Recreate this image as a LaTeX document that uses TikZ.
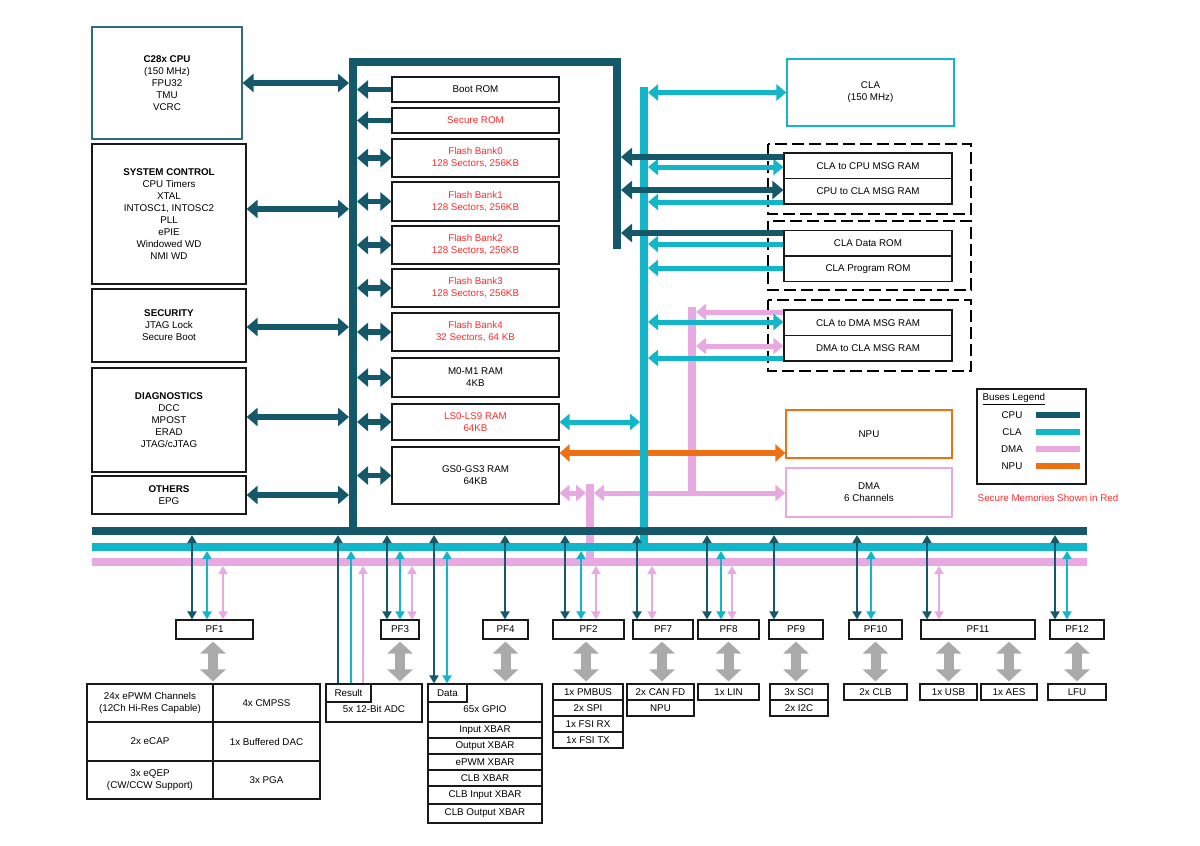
\documentclass[tikz,border=0pt]{standalone}
\usepackage{fontspec}
\setmainfont{Liberation Sans}
\usetikzlibrary{arrows.meta, calc}
\definecolor{cpubus}{HTML}{15586A}
\definecolor{clabus}{HTML}{12B6C8}
\definecolor{dmabus}{HTML}{E8A9E2}
\definecolor{npubus}{HTML}{EE7012}
\definecolor{secred}{HTML}{FF2B2B}
\definecolor{pfgray}{HTML}{AAAAAA}
\definecolor{cpuframe}{HTML}{2E6E7C}
\tikzset{
  block/.style={
    draw=black!90,
    line width=1.2pt,
    fill=white,
    inner sep=0pt,
    align=center
  },
  mem box/.style={
    block,
    minimum width=167pt
  },
  msg box/.style={
    block,
    minimum width=168pt,
    minimum height=25.5pt
  },
  pf box/.style={
    block,
    minimum height=19pt
  },
  sub box/.style={
    block,
    minimum height=16pt
  },
  secure/.style={text=secred},
  group frame/.style={
    draw=black,
    line width=1.3pt,
    dash pattern=on 12pt off 5pt
  },
  cpu bus/.style={draw=cpubus, line width=8pt},
  cla bus/.style={draw=clabus, line width=8pt},
  dma bus/.style={draw=dmabus, line width=8pt},
  cpu link/.style={
    draw=cpubus,
    line width=5.5pt,
    >={Triangle[length=11pt,width=18pt]}
  },
  cla link/.style={
    draw=clabus,
    line width=5pt,
    >={Triangle[length=10pt,width=16pt]}
  },
  dma link/.style={
    draw=dmabus,
    line width=5pt,
    >={Triangle[length=10pt,width=16pt]}
  },
  npu link/.style={
    draw=npubus,
    line width=5.5pt,
    >={Triangle[length=10pt,width=17pt]}
  },
  cpu wire/.style={
    draw=cpubus,
    line width=1.8pt,
    >={Triangle[length=8pt,width=9pt]}
  },
  cla wire/.style={cpu wire, draw=clabus},
  dma wire/.style={cpu wire, draw=dmabus},
  pf link/.style={
    draw=pfgray,
    line width=10pt,
    shorten <=2pt,
    shorten >=2pt,
    >={Triangle[length=12pt,width=25pt]}
  }
}

\begin{document}
\begin{tikzpicture}[x=1pt, y=-1pt, font=\fontsize{9.8}{12}\selectfont]
  \useasboundingbox (0,0) rectangle (1200,846);

  % left blocks
  \node[block, draw=cpuframe, minimum width=150pt, minimum height=112pt] (cpu) at (167,83)
    {\textbf{C28x CPU}\\(150 MHz)\\FPU32\\TMU\\VCRC};
  \node[block, minimum width=154pt, minimum height=140pt] (sysctl) at (169,214)
    {\textbf{SYSTEM CONTROL}\\CPU Timers\\XTAL\\INTOSC1, INTOSC2\\PLL\\ePIE\\Windowed WD\\NMI WD};
  \node[block, minimum width=154pt, minimum height=73pt] (security) at (169,325.5)
    {\textbf{SECURITY}\\JTAG Lock\\Secure Boot};
  \node[block, minimum width=154pt, minimum height=104pt] (diag) at (169,420)
    {\textbf{DIAGNOSTICS}\\DCC\\MPOST\\ERAD\\JTAG/cJTAG};
  \node[block, minimum width=154pt, minimum height=38pt] (others) at (169,495)
    {\textbf{OTHERS}\\EPG};

  % memories
  \node[mem box, minimum height=25pt] (bootrom) at (475.5,89.5) {Boot ROM};
  \node[mem box, secure, minimum height=25pt] (secrom) at (475.5,120.5) {Secure ROM};
  \node[mem box, secure, minimum height=38pt] (flash0) at (475.5,158) {Flash Bank0\\128 Sectors, 256KB};
  \node[mem box, secure, minimum height=39pt] (flash1) at (475.5,201.5) {Flash Bank1\\128 Sectors, 256KB};
  \node[mem box, secure, minimum height=38pt] (flash2) at (475.5,245) {Flash Bank2\\128 Sectors, 256KB};
  \node[mem box, secure, minimum height=38pt] (flash3) at (475.5,288) {Flash Bank3\\128 Sectors, 256KB};
  \node[mem box, secure, minimum height=38pt] (flash4) at (475.5,332) {Flash Bank4\\32 Sectors, 64 KB};
  \node[mem box, minimum height=39pt] (m0m1) at (475.5,377.5) {M0-M1 RAM\\4KB};
  \node[mem box, secure, minimum height=36pt] (lsram) at (475.5,422) {LS0-LS9 RAM\\64KB};
  \node[mem box, minimum height=57pt] (gsram) at (475.5,475.5) {GS0-GS3 RAM\\64KB};

  % CLA side
  \node[block, draw=clabus, minimum width=167pt, minimum height=67pt] (cla) at (870.5,92.5) {CLA\\(150 MHz)};
  \draw[group frame] (768,144) rectangle (971,214);
  \draw[group frame] (768,221) rectangle (971,290);
  \draw[group frame] (768,300) rectangle (971,371);
  \node[msg box] (c2cmsg) at (868,165.75) {CLA to CPU MSG RAM};
  \node[msg box] (cpu2cla) at (868,191.25) {CPU to CLA MSG RAM};
  \node[msg box] (cladrom) at (868,243.25) {CLA Data ROM};
  \node[msg box] (claprom) at (868,268.75) {CLA Program ROM};
  \node[msg box] (cla2dma) at (868,322.75) {CLA to DMA MSG RAM};
  \node[msg box] (dma2cla) at (868,348.25) {DMA to CLA MSG RAM};
  \node[block, draw=npubus, minimum width=166pt, minimum height=48pt] (npu) at (869,434) {NPU};
  \node[block, draw=dmabus, minimum width=166pt, minimum height=49pt] (dma) at (869,492.5) {DMA\\6 Channels};

  % legend
  \node[block, minimum width=109pt, minimum height=95pt] (legend) at (1031.5,436.5) {};
  \node[anchor=west] (legendtitle) at (979,399) {\underline{Buses Legend}};
  \node (lgcpu) at (1012,415) {CPU};
  \node (lgcla) at (1012,432) {CLA};
  \node (lgdma) at (1012,449) {DMA};
  \node (lgnpu) at (1012,466) {NPU};
  \draw[cpu bus, line width=6.5pt] (1036,415) -- (1080,415);
  \draw[cla bus, line width=6.5pt] (1036,432) -- (1080,432);
  \draw[dma bus, line width=6.5pt] (1036,449) -- (1080,449);
  \draw[draw=npubus, line width=6.5pt] (1036,466) -- (1080,466);
  \node[secure] (securenote) at (1048,498) {Secure Memories Shown in Red};

  % peripheral frames
  \node[pf box, minimum width=77pt] (pf1) at (214.5,629.5) {PF1};
  \node[pf box, minimum width=38pt] (pf3) at (400,629.5) {PF3};
  \node[pf box, minimum width=45pt] (pf4) at (505.5,629.5) {PF4};
  \node[pf box, minimum width=71pt] (pf2) at (588.5,629.5) {PF2};
  \node[pf box, minimum width=60pt] (pf7) at (663,629.5) {PF7};
  \node[pf box, minimum width=61pt] (pf8) at (728.5,629.5) {PF8};
  \node[pf box, minimum width=54pt] (pf9) at (796,629.5) {PF9};
  \node[pf box, minimum width=53pt] (pf10) at (875.5,629.5) {PF10};
  \node[pf box, minimum width=114pt] (pf11) at (978,629.5) {PF11};
  \node[pf box, minimum width=54pt] (pf12) at (1077,629.5) {PF12};

  % peripherals
  \node[block, minimum width=126pt, minimum height=38pt] (epwm) at (150,703) {24x ePWM Channels\\(12Ch Hi-Res Capable)};
  \node[block, minimum width=107pt, minimum height=38pt] (cmpss) at (266.5,703) {4x CMPSS};
  \node[block, minimum width=126pt, minimum height=39pt] (ecap) at (150,741.5) {2x eCAP};
  \node[block, minimum width=107pt, minimum height=39pt] (dac) at (266.5,741.5) {1x Buffered DAC};
  \node[block, minimum width=126pt, minimum height=38pt] (eqep) at (150,780) {3x eQEP\\(CW/CCW Support)};
  \node[block, minimum width=107pt, minimum height=38pt] (pga) at (266.5,780) {3x PGA};

  \node[block, minimum width=96pt, minimum height=38pt] (adc) at (374,703) {};
  \node (adctext) at ([yshift=-6pt]adc.center) {5x 12-Bit ADC};
  \node[block, minimum width=45pt, minimum height=18pt] (result) at (348.5,693) {Result};

  \node[block, minimum width=114pt, minimum height=38pt] (gpio) at (485,703) {};
  \node (gpiotext) at ([yshift=-6pt]gpio.center) {65x GPIO};
  \node[block, minimum width=39pt, minimum height=18pt] (data) at (447.5,693) {Data};
  \node[sub box, minimum width=114pt] (inxbar) at (485,730) {Input XBAR};
  \node[sub box, minimum width=114pt] (outxbar) at (485,746) {Output XBAR};
  \node[sub box, minimum width=114pt] (epwmxbar) at (485,762) {ePWM XBAR};
  \node[sub box, minimum width=114pt] (clbxbar) at (485,778) {CLB XBAR};
  \node[sub box, minimum width=114pt, minimum height=18pt] (clbinxbar) at (485,795) {CLB Input XBAR};
  \node[sub box, minimum width=114pt, minimum height=19pt] (clboutxbar) at (485,813.5) {CLB Output XBAR};

  \node[sub box, minimum width=70pt] (pmbus) at (588,692) {1x PMBUS};
  \node[sub box, minimum width=70pt] (spi) at (588,708) {2x SPI};
  \node[sub box, minimum width=70pt] (fsirx) at (588,724) {1x FSI RX};
  \node[sub box, minimum width=70pt] (fsitx) at (588,740) {1x FSI TX};
  \node[sub box, minimum width=67pt] (canfd) at (660.5,692) {2x CAN FD};
  \node[sub box, minimum width=67pt] (npusub) at (660.5,708) {NPU};
  \node[sub box, minimum width=61pt] (lin) at (728.5,692) {1x LIN};
  \node[sub box, minimum width=58pt] (sci) at (799,692) {3x SCI};
  \node[sub box, minimum width=58pt] (iic) at (799,708) {2x I2C};
  \node[sub box, minimum width=63pt] (clb) at (875.5,692) {2x CLB};
  \node[sub box, minimum width=57pt] (usb) at (948.5,692) {1x USB};
  \node[sub box, minimum width=56pt] (aes) at (1009,692) {1x AES};
  \node[sub box, minimum width=58pt] (lfu) at (1077,692) {LFU};

  % bus edges
  \coordinate (cpuL) at (349,0);
  \coordinate (cpuR) at (357,0);
  \coordinate (cpuRR) at (621,0);
  \coordinate (claL) at (640,0);
  \coordinate (claR) at (648,0);
  \coordinate (dmaR) at (696,0);
  \coordinate (dmaS) at (586,0);
  \coordinate (dmaSR) at (594,0);
  \coordinate (cpuB) at (0,535);
  \coordinate (claB) at (0,551);
  \coordinate (dmaB) at (0,566);

  % DMA bus
  \draw[dma bus] (92,562) -- (1087,562);
  \draw[dma bus] (590,484) -- (590,562);
  \draw[dma bus] (692,307) -- (692,494);
  \draw[dma link, ->] (cla2dma.west |- 0,312) -- (dmaR |- 0,312);
  \draw[dma link, <->] (dmaR |- 0,346) -- (dma2cla.west |- 0,346);
  \draw[dma link, <->] (gsram.east |- 0,493) -- (dmaS |- 0,493);
  \draw[dma link, <->] (dmaSR |- 0,493) -- (dma.west |- 0,493);

  % NPU link
  \draw[npu link, <->] (gsram.east |- 0,453) -- (npu.west |- 0,453);

  % CLA bus
  \draw[cla bus] (644,87) -- (644,547);
  \draw[cla bus] (92,547) -- (1087,547);
  \draw[cla link, <->] (cla.west -| claR) -- (cla.west);
  \draw[cla link, <->] (claR |- 0,167) -- (c2cmsg.west |- 0,167);
  \draw[cla link, ->] (cpu2cla.west |- 0,202) -- (claR |- 0,202);
  \draw[cla link, ->] (cladrom.west |- 0,244) -- (claR |- 0,244);
  \draw[cla link, ->] (claprom.west |- 0,268) -- (claR |- 0,268);
  \draw[cla link, <->] (claR |- 0,322) -- (cla2dma.west |- 0,322);
  \draw[cla link, ->] (dma2cla.west |- 0,358) -- (claR |- 0,358);
  \draw[cla link, <->] (lsram.east) -- (lsram.east -| claL);

  % CPU bus
  \draw[cpu bus] (617,249) -- (617,62) -- (353,62) -- (353,531);
  \draw[cpu bus] (92,531) -- (1087,531);
  \draw[cpu link, <->] (cpu.east) -- (cpu.east -| cpuL);
  \draw[cpu link, <->] ([yshift=5pt]sysctl.east) -- ([yshift=5pt]sysctl.east -| cpuL);
  \draw[cpu link, <->] ([yshift=-1.5pt]security.east) -- ([yshift=-1.5pt]security.east -| cpuL);
  \draw[cpu link, <->] ([yshift=3pt]diag.east) -- ([yshift=3pt]diag.east -| cpuL);
  \draw[cpu link, <->] (others.east) -- (others.east -| cpuL);
  \draw[cpu link, ->] (bootrom.west) -- (bootrom.west -| cpuR);
  \draw[cpu link, ->] (secrom.west) -- (secrom.west -| cpuR);
  \foreach \m in {flash0, flash1, flash2, flash3, flash4, m0m1, lsram, gsram}
    \draw[cpu link, <->] (\m.west -| cpuR) -- (\m.west);
  \draw[cpu link, ->] (c2cmsg.west |- 0,157) -- (cpuRR |- 0,157);
  \draw[cpu link, <->] (cpuRR |- 0,190) -- (cpu2cla.west |- 0,190);
  \draw[cpu link, ->] (cladrom.west |- 0,233) -- (cpuRR |- 0,233);

  % peripheral wires
  \foreach \x/\pf in {192/pf1, 387/pf3, 505/pf4, 565/pf2, 637/pf7, 707/pf8, 774/pf9, 857/pf10, 927/pf11, 1055/pf12}
    \draw[cpu wire, <->] (\x,0 |- cpuB) -- (\x,0 |- \pf.north);
  \foreach \x/\pf in {207/pf1, 400/pf3, 581/pf2, 721/pf8, 871/pf10, 1067/pf12}
    \draw[cla wire, <->] (\x,0 |- claB) -- (\x,0 |- \pf.north);
  \foreach \x/\pf in {223/pf1, 412/pf3, 596/pf2, 652/pf7, 732/pf8, 939/pf11}
    \draw[dma wire, <->] (\x,0 |- dmaB) -- (\x,0 |- \pf.north);
  \draw[cpu wire, ->] (338,0 |- result.north) -- (338,0 |- cpuB);
  \draw[cla wire, ->] (351,0 |- result.north) -- (351,0 |- claB);
  \draw[dma wire, ->] (363,0 |- result.north) -- (363,0 |- dmaB);
  \draw[cpu wire, <->] (434,0 |- cpuB) -- (434,0 |- data.north);
  \draw[cla wire, <->] (447,0 |- claB) -- (447,0 |- data.north);

  % frame to peripheral links
  \draw[pf link, <->] (213,0 |- pf1.south) -- (213,0 |- epwm.north);
  \draw[pf link, <->] (pf3.south) -- (pf3.south |- adc.north);
  \draw[pf link, <->] (pf4.south) -- (pf4.south |- gpio.north);
  \draw[pf link, <->] (586,0 |- pf2.south) -- (586,0 |- pmbus.north);
  \draw[pf link, <->] (662,0 |- pf7.south) -- (662,0 |- canfd.north);
  \draw[pf link, <->] (pf8.south) -- (lin.north);
  \draw[pf link, <->] (pf9.south) -- (pf9.south |- sci.north);
  \draw[pf link, <->] (pf10.south) -- (pf10.south |- clb.north);
  \draw[pf link, <->] (usb.north |- pf11.south) -- (usb.north);
  \draw[pf link, <->] (aes.north |- pf11.south) -- (aes.north);
  \draw[pf link, <->] (pf12.south) -- (lfu.north);

\end{tikzpicture}
\end{document}
